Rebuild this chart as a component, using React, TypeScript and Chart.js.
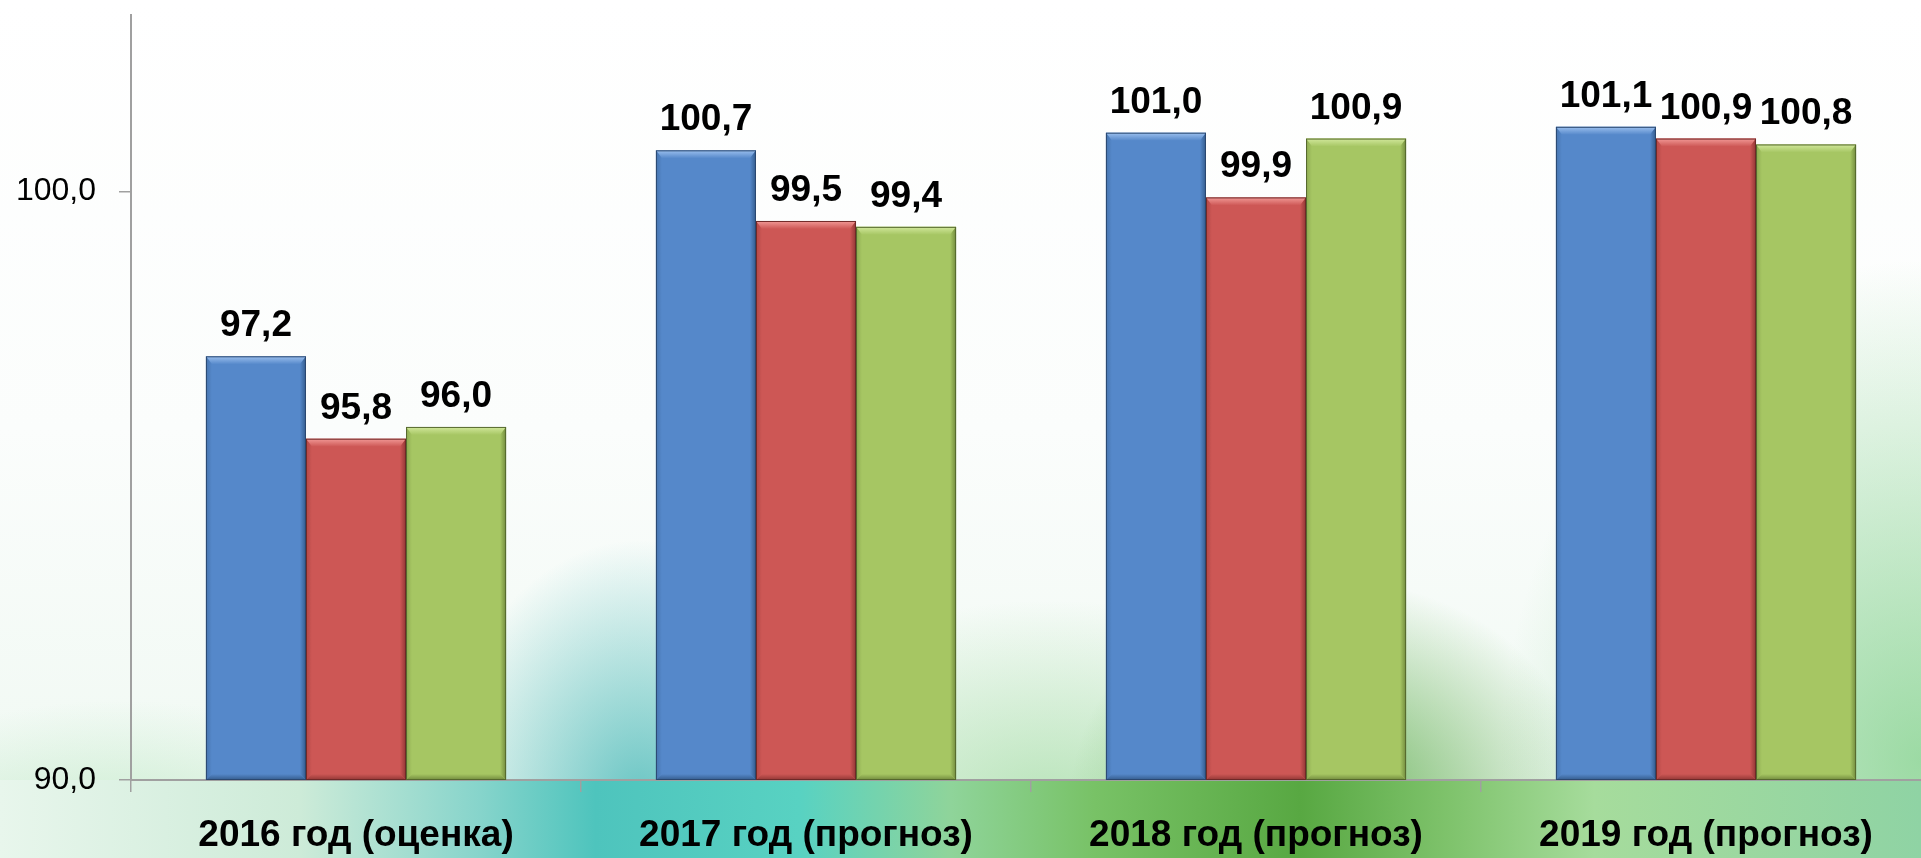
import React, { useEffect, useRef } from "react";
import { Chart, registerables } from "chart.js";

Chart.register(...registerables);

const categories = [
  "2016 год (оценка)",
  "2017 год (прогноз)",
  "2018 год (прогноз)",
  "2019 год (прогноз)",
];
const seriesA = [97.2, 100.7, 101.0, 101.1];
const seriesB = [95.8, 99.5, 99.9, 100.9];
const seriesC = [96.0, 99.4, 100.9, 100.8];
const yTickValues = [90, 100];

const palette = [
  { base: "#5588CA", light: "#9CC0EE", dark: "#345C8C", edge: "#2B4870" },
  { base: "#CD5755", light: "#F29A97", dark: "#913634", edge: "#6E2928" },
  { base: "#A6C663", light: "#D2E89C", dark: "#718A3D", edge: "#55682E" },
];

const fmt = (v: number) => v.toFixed(1).replace(".", ",");

const bevelPlugin = {
  id: "bevel",
  afterDatasetsDraw(chart: any) {
    const ctx = chart.ctx;
    const area = chart.chartArea;
    chart.data.datasets.forEach((ds: any, di: number) => {
      const meta = chart.getDatasetMeta(di);
      const col = palette[di];
      meta.data.forEach((el: any, i: number) => {
        const { x, y, base, width } = el.getProps(["x", "y", "base", "width"], true);
        const L = x - width / 2;
        const R = x + width / 2;
        const T = y;
        const B = Math.min(base, area.bottom);
        const bt = 8;
        const bs = 6;
        ctx.save();
        const gt = ctx.createLinearGradient(0, T, 0, T + bt);
        gt.addColorStop(0, col.light);
        gt.addColorStop(1, col.base);
        ctx.fillStyle = gt;
        ctx.beginPath();
        ctx.moveTo(L, T);
        ctx.lineTo(R, T);
        ctx.lineTo(R - bs, T + bt);
        ctx.lineTo(L + bs, T + bt);
        ctx.closePath();
        ctx.fill();
        const gl = ctx.createLinearGradient(L, 0, L + bs, 0);
        gl.addColorStop(0, col.dark);
        gl.addColorStop(1, col.base);
        ctx.fillStyle = gl;
        ctx.globalAlpha = 0.45;
        ctx.beginPath();
        ctx.moveTo(L, T);
        ctx.lineTo(L + bs, T + bt);
        ctx.lineTo(L + bs, B - bs);
        ctx.lineTo(L, B);
        ctx.closePath();
        ctx.fill();
        ctx.globalAlpha = 1;
        const gr = ctx.createLinearGradient(R - bs, 0, R, 0);
        gr.addColorStop(0, col.base);
        gr.addColorStop(1, col.dark);
        ctx.fillStyle = gr;
        ctx.beginPath();
        ctx.moveTo(R, T);
        ctx.lineTo(R, B);
        ctx.lineTo(R - bs, B - bs);
        ctx.lineTo(R - bs, T + bt);
        ctx.closePath();
        ctx.fill();
        const gb = ctx.createLinearGradient(0, B - bs, 0, B);
        gb.addColorStop(0, col.base);
        gb.addColorStop(1, col.dark);
        ctx.fillStyle = gb;
        ctx.beginPath();
        ctx.moveTo(L, B);
        ctx.lineTo(R, B);
        ctx.lineTo(R - bs, B - bs);
        ctx.lineTo(L + bs, B - bs);
        ctx.closePath();
        ctx.fill();
        ctx.strokeStyle = col.edge;
        ctx.lineWidth = 1;
        ctx.strokeRect(L + 0.5, T + 0.5, width - 1, B - T - 1);
        ctx.fillStyle = "#000";
        ctx.font = "bold 37px 'Liberation Sans', Arial, sans-serif";
        ctx.textAlign = "center";
        ctx.textBaseline = "alphabetic";
        ctx.fillText(fmt(ds.data[i]), x, T - 20);
        ctx.restore();
      });
    });
  },
};

export default function App() {
  const ref = useRef<HTMLCanvasElement | null>(null);

  useEffect(() => {
    if (!ref.current) return;
    const chart = new Chart(ref.current, {
      type: "bar",
      data: {
        labels: categories,
        datasets: [
          { label: "A", data: seriesA, backgroundColor: palette[0].base, borderWidth: 0 },
          { label: "B", data: seriesB, backgroundColor: palette[1].base, borderWidth: 0 },
          { label: "C", data: seriesC, backgroundColor: palette[2].base, borderWidth: 0 },
        ],
      },
      options: {
        animation: false,
        responsive: false,
        devicePixelRatio: 1,
        layout: { padding: { top: 15, right: 0, left: 0, bottom: 0 } },
        plugins: { legend: { display: false }, tooltip: { enabled: false } },
        datasets: { bar: { categoryPercentage: 0.667, barPercentage: 1.0 } },
        scales: {
          x: {
            grid: {
              display: true,
              drawOnChartArea: false,
              drawTicks: true,
              tickLength: 12,
              offset: true,
              color: "#a0a0a0",
              lineWidth: 1.5,
            },
            border: { display: true, color: "#a0a0a0", width: 2 },
            ticks: {
              color: "#000",
              padding: 22,
              maxRotation: 0,
              autoSkip: false,
              font: { family: "'Liberation Sans', Arial, sans-serif", size: 37, weight: "bold" },
            },
            afterFit: (s: any) => {
              s.height = 78;
              s.paddingLeft = 0;
              s.paddingRight = 0;
            },
          },
          y: {
            min: 90,
            max: 103,
            afterBuildTicks: (s: any) => {
              s.ticks = yTickValues.map((v) => ({ value: v }));
            },
            grid: {
              display: true,
              drawOnChartArea: false,
              drawTicks: true,
              tickLength: 12,
              color: "#a0a0a0",
              lineWidth: 1.5,
            },
            border: { display: true, color: "#a0a0a0", width: 2 },
            ticks: {
              color: "#000",
              padding: 23,
              callback: (v: any) => fmt(Number(v)),
              font: { family: "'Liberation Sans', Arial, sans-serif", size: 32 },
            },
            afterFit: (s: any) => {
              s.width = 131;
              s.paddingTop = 0;
              s.paddingBottom = 0;
            },
          },
        },
      },
      plugins: [bevelPlugin],
    } as any);
    return () => chart.destroy();
  }, []);

  const layers = [
    {
      img: "linear-gradient(to right, #e8f6ec 0%, #cdebd8 15.6%, #86d4cb 25%, #4ec4bd 31%, #58d2c2 41.6%, #8fd49a 49.5%, #78c266 57%, #58a842 67.7%, #7fc36c 75.5%, #a6dc9c 83%, #8fd3a4 100%)",
      size: "100% 78px",
      pos: "0 780px",
    },
    {
      img: "radial-gradient(ellipse 200px 260px at 640px 800px, rgba(60,180,180,0.75), rgba(60,180,180,0) 100%)",
      size: "100% 100%",
      pos: "0 0",
    },
    {
      img: "radial-gradient(ellipse 260px 220px at 1330px 800px, rgba(80,165,60,0.8), rgba(80,165,60,0) 100%)",
      size: "100% 100%",
      pos: "0 0",
    },
    {
      img: "radial-gradient(ellipse 320px 200px at 1050px 800px, rgba(150,215,150,0.6), rgba(150,215,150,0) 100%)",
      size: "100% 100%",
      pos: "0 0",
    },
    {
      img: "radial-gradient(ellipse 420px 500px at 1921px 760px, rgba(120,205,130,0.7), rgba(120,205,130,0) 100%)",
      size: "100% 100%",
      pos: "0 0",
    },
    {
      img: "radial-gradient(ellipse 300px 160px at 120px 860px, rgba(150,220,160,0.5), rgba(150,220,160,0) 100%)",
      size: "100% 100%",
      pos: "0 0",
    },
    {
      img: "linear-gradient(to bottom, #ffffff 0%, #fbfdfc 50%, #eef8f1 100%)",
      size: "100% 100%",
      pos: "0 0",
    },
  ];

  return (
    <div
      style={{
        position: "fixed",
        left: 0,
        top: 0,
        width: 1921,
        height: 858,
        overflow: "hidden",
        backgroundImage: layers.map((l) => l.img).join(", "),
        backgroundSize: layers.map((l) => l.size).join(", "),
        backgroundPosition: layers.map((l) => l.pos).join(", "),
        backgroundRepeat: "no-repeat",
      }}
    >
      <canvas ref={ref} width={1931} height={858} style={{ display: "block", width: 1931, height: 858 }} />
    </div>
  );
}
